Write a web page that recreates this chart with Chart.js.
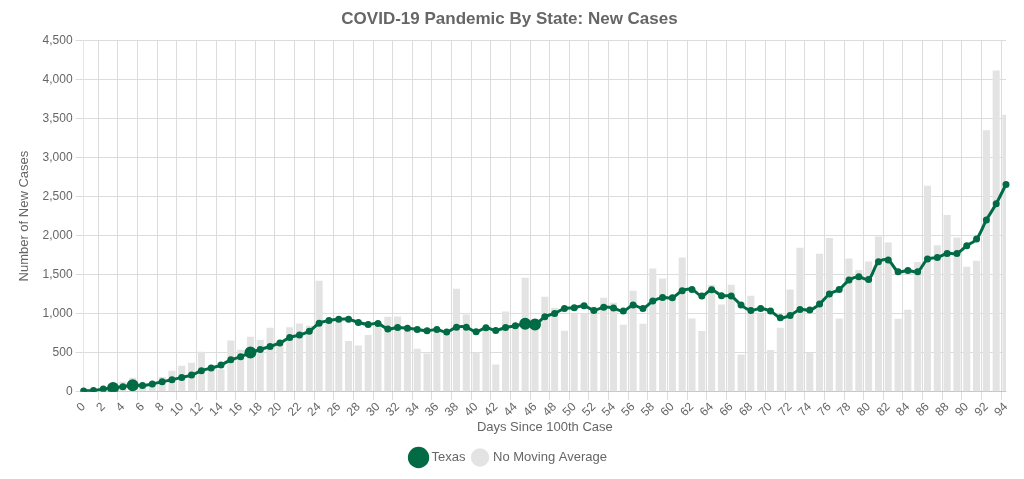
<!DOCTYPE html>
<html lang="en">
<head>
    <meta charset="UTF-8">
    <title>COVID-19 Pandemic By State: New Cases</title>
    <script src="https://cdn.jsdelivr.net/npm/chart.js"></script>
    <style>
        body { margin: 0; background: #fff; }
        #wrap { width: 1024px; height: 479px; }
    </style>
</head>
<body>
    <div id="wrap"><canvas id="myChart"></canvas></div>

    <script>
        // days since 100th case
        const days = Array.from({ length: 95 }, (_, i) => String(i));

        // daily new cases (grey bars)
        const newCases = [
            5, 10, 20, 40, 130, 180, 70, 100, 190, 270,
            333, 372, 512, 300, 290, 658, 538, 705, 662, 820,
            600, 828, 875, 845, 1422, 900, 920, 649, 594, 726,
            860, 961, 965, 790, 551, 491, 760, 780, 1319, 990,
            504, 800, 350, 1029, 860, 1460, 880, 1217, 1076, 781,
            1000, 1003, 1090, 1204, 1140, 858, 1294, 871, 1580, 1452,
            1200, 1721, 939, 777, 1366, 1119, 1371, 478, 1230, 1000,
            534, 820, 1311, 1845, 500, 1768, 1968, 939, 1708, 1559,
            1670, 1990, 1913, 935, 1050, 1661, 2639, 1875, 2263, 1977,
            1601, 1678, 3348, 4116, 3548
        ];

        // moving average for Texas (green line)
        const texasAvg = [
            10, 17, 35, 50, 65, 85, 80, 100, 128, 154,
            184, 214, 270, 305, 342, 410, 448, 502, 542, 580,
            625, 696, 726, 775, 878, 914, 930, 930, 888, 862,
            875, 803, 824, 815, 798, 781, 798, 764, 828, 828,
            768, 820, 786, 824, 845, 871, 862, 961, 1003, 1068,
            1076, 1102, 1042, 1084, 1072, 1033, 1110, 1068, 1161, 1208,
            1204, 1294, 1311, 1226, 1307, 1230, 1226, 1110, 1042, 1068,
            1033, 948, 978, 1055, 1046, 1123, 1251, 1311, 1430, 1473,
            1439, 1665, 1687, 1537, 1554, 1537, 1699, 1721, 1772, 1772,
            1870, 1956, 2199, 2408, 2656
        ];

        // days with highlighted (larger) markers
        const bigPoints = [3, 5, 17, 45, 46];

        const yTicks = [0, 500, 1000, 1500, 2000, 2500, 3000, 3500, 4000, 4500];

        const green = '#006b45';
        const grey = '#e3e3e3';
        const textGrey = '#666';

        Chart.defaults.font.family = "'Liberation Sans', Arial, sans-serif";
        Chart.defaults.color = textGrey;

        const ctx = document.getElementById('myChart').getContext('2d');
        new Chart(ctx, {
            type: 'bar',
            data: {
                labels: days,
                datasets: [
                    {
                        type: 'line',
                        label: 'Texas',
                        data: texasAvg,
                        borderColor: green,
                        backgroundColor: green,
                        borderWidth: 3,
                        tension: 0.3,
                        pointRadius: days.map((d, i) => bigPoints.includes(i) ? 4.5 : 2),
                        pointBackgroundColor: green,
                        pointBorderColor: green,
                        pointStyle: 'circle',
                        order: 0
                    },
                    {
                        label: 'No Moving Average',
                        data: newCases,
                        backgroundColor: grey,
                        borderWidth: 0,
                        pointStyle: 'circle',
                        order: 1
                    }
                ]
            },
            options: {
                responsive: true,
                maintainAspectRatio: false,
                animation: false,
                layout: { padding: { left: 13, right: 18, top: 4, bottom: 5 } },
                plugins: {
                    title: {
                        display: true,
                        text: 'COVID-19 Pandemic By State: New Cases',
                        font: { size: 17, weight: 'bold' },
                        color: textGrey,
                        padding: { top: 5, bottom: 11 }
                    },
                    legend: {
                        position: 'bottom',
                        labels: {
                            usePointStyle: true,
                            font: { size: 13 },
                            color: textGrey,
                            padding: 8
                        }
                    },
                    tooltip: { enabled: false }
                },
                scales: {
                    x: {
                        offset: false,
                        title: {
                            display: true,
                            text: 'Days Since 100th Case',
                            font: { size: 13 },
                            color: textGrey,
                            padding: { top: 0, bottom: 8 }
                        },
                        grid: {
                            color: c => (c.index % 2 === 0 ? '#dcdcdc' : 'rgba(0,0,0,0)')
                        },
                        ticks: {
                            autoSkip: false,
                            maxRotation: 45,
                            minRotation: 45,
                            padding: 0,
                            font: { size: 12 },
                            callback: function (val, i) {
                                return i % 2 === 0 ? days[i] : '';
                            }
                        }
                    },
                    y: {
                        min: 0,
                        max: 4500,
                        title: {
                            display: true,
                            text: 'Number of New Cases',
                            font: { size: 13 },
                            color: textGrey,
                            padding: { top: 4, bottom: 7 }
                        },
                        grid: { color: '#dcdcdc' },
                        afterBuildTicks: axis => {
                            axis.ticks = yTicks.map(v => ({ value: v }));
                        },
                        ticks: {
                            font: { size: 12 },
                            callback: v => v.toLocaleString('en-US')
                        }
                    }
                }
            }
        });
    </script>
</body>
</html>
